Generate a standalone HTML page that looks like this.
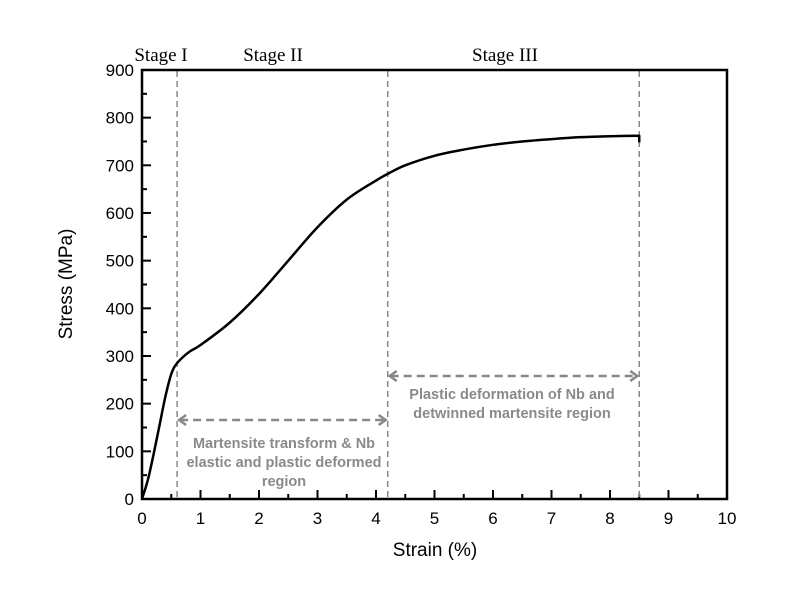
<!DOCTYPE html>
<html><head><meta charset="utf-8"><style>body{margin:0;background:#fff}svg{display:block}</style></head>
<body>
<svg id="chart" width="787" height="594" xmlns="http://www.w3.org/2000/svg" font-family="Liberation Sans, sans-serif">
<g id="ticks"></g>
<g id="curve"></g>
<text x="161" y="61" font-family="Liberation Serif, serif" font-size="19" text-anchor="middle">Stage I</text>
<text x="273" y="61" font-family="Liberation Serif, serif" font-size="19" text-anchor="middle">Stage II</text>
<text x="505" y="61" font-family="Liberation Serif, serif" font-size="19" text-anchor="middle">Stage III</text>
<text x="435" y="556" font-size="19" text-anchor="middle">Strain (%)</text>
<text transform="translate(72,284) rotate(-90)" font-size="19" text-anchor="middle">Stress (MPa)</text>
<g fill="#8a8a8a" font-size="14.5" font-weight="bold" text-anchor="middle">
<text x="284" y="448">Martensite transform &amp; Nb<tspan x="284" dy="19">elastic and plastic deformed</tspan><tspan x="284" dy="19">region</tspan></text>
<text x="512" y="399">Plastic deformation of Nb and<tspan x="512" dy="19">detwinned martensite region</tspan></text>
</g>
</svg>
<script>
const xTicks=[0,1,2,3,4,5,6,7,8,9,10];
const yTicks=[0,100,200,300,400,500,600,700,800,900];
const strain=[0,0.1,0.2,0.3,0.4,0.5,0.6,0.8,1,1.5,2,2.5,3,3.5,4,4.2,4.5,5,5.5,6,6.5,7,7.5,8,8.5];
const stress=[0,40,95,155,215,262,285,308,323,370,430,500,570,628,668,682,700,720,733,743,750,755,759,761,762];
const endDrop=748;
const stageBounds=[0.6,4.2,8.5];
const NS='http://www.w3.org/2000/svg';
const X=v=>142+v*58.5, Y=v=>499-v*0.4767;
function mk(p,t,a){const e=document.createElementNS(NS,t);for(const k in a)e.setAttribute(k,a[k]);p.appendChild(e);return e;}
const svg=document.getElementById('chart');
const tk=document.getElementById('ticks');
xTicks.forEach(v=>{
  const l=mk(tk,'line',{x1:X(v),x2:X(v),y1:499,y2:490,stroke:'#000','stroke-width':2});
  
  
  if(v<10){const m=mk(tk,'line',{x1:X(v+0.5),x2:X(v+0.5),y1:499,y2:494,stroke:'#000','stroke-width':2});
  
  }
  const t=mk(tk,'text',{x:X(v),y:524,'font-size':17,'text-anchor':'middle'});t.textContent=v;
  
  
});
yTicks.forEach(v=>{
  const l=mk(tk,'line',{x1:142,x2:151,y1:Y(v),y2:Y(v),stroke:'#000','stroke-width':2});
  
  
  if(v<900){const m=mk(tk,'line',{x1:142,x2:147,y1:Y(v+50),y2:Y(v+50),stroke:'#000','stroke-width':2});
  
  }
  const t=mk(tk,'text',{x:134,y:Y(v)+6,'font-size':17,'text-anchor':'end'});t.textContent=v;
  
  
});
stageBounds.forEach(v=>{
  const l=mk(tk,'line',{x1:X(v),x2:X(v),y1:71,y2:498,stroke:'#888','stroke-width':1.5,'stroke-dasharray':'6,4'});
  
  
});
function arrow(x1,x2,y,name){
  const g=mk(tk,'g',{stroke:'#888','stroke-width':2.5,fill:'none'});
  
  
  mk(g,'line',{x1:x1+3,x2:x2-3,y1:y,y2:y,'stroke-dasharray':'8,5'});
  mk(g,'polyline',{points:`${x1+9},${y-5} ${x1+2},${y} ${x1+9},${y+5}`});
  mk(g,'polyline',{points:`${x2-9},${y-5} ${x2-2},${y} ${x2-9},${y+5}`});
}
arrow(X(stageBounds[0]),X(stageBounds[1]),420,'stage-2-arrow');
arrow(X(stageBounds[1]),X(stageBounds[2]),376,'stage-3-arrow');
const frame=mk(svg,'rect',{x:142,y:70,width:585,height:429,fill:'none',stroke:'#000','stroke-width':2.5});


const P=strain.map((s,i)=>[X(s),Y(stress[i])]);
let d='M'+P[0][0]+','+P[0][1];
for(let i=0;i < P.length-1;i++){
  const p0=P[i-1]||P[i],p1=P[i],p2=P[i+1],p3=P[i+2]||P[i+1];
  const c1=[p1[0]+(p2[0]-p0[0])/6,p1[1]+(p2[1]-p0[1])/6];
  const c2=[p2[0]-(p3[0]-p1[0])/6,p2[1]-(p3[1]-p1[1])/6];
  d+=` C${c1[0]},${c1[1]} ${c2[0]},${c2[1]} ${p2[0]},${p2[1]}`;
}
d+=` L${X(strain[strain.length-1])},${Y(endDrop)}`;
const c=mk(document.getElementById('curve'),'path',{d:d,fill:'none',stroke:'#000','stroke-width':2.5,'stroke-linejoin':'round'});


</script>
</body></html>
